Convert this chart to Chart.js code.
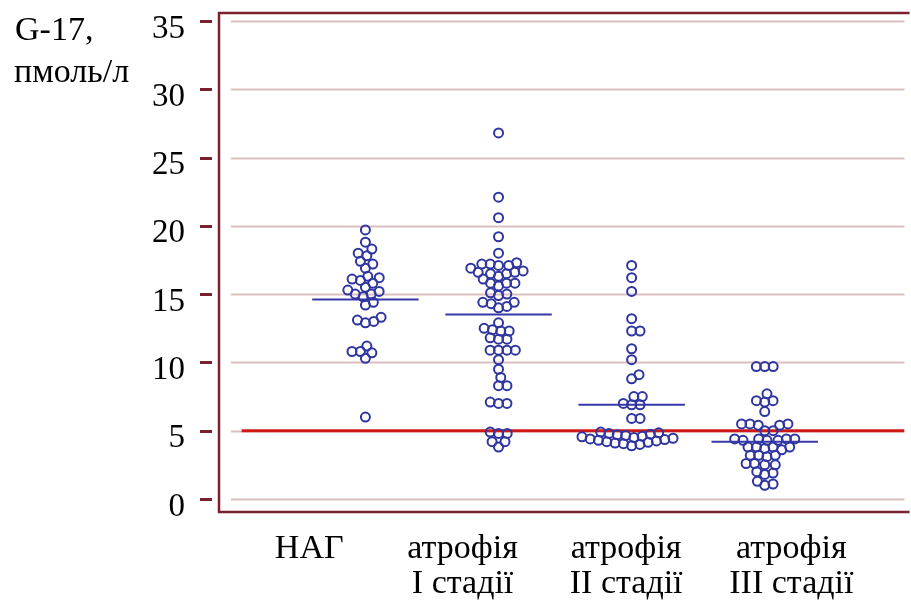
<!DOCTYPE html>
<html>
<head>
<meta charset="utf-8">
<script src="https://cdn.jsdelivr.net/npm/chart.js@4.4.0/dist/chart.umd.min.js"></script>
<style>
  body { margin: 0; background: #fff; }
  #wrap { width: 911px; height: 601px; }
</style>
</head>
<body>
<div id="wrap"><canvas id="myChart"></canvas></div>
<script>
// groups and values
var groupLabels = [["НАГ"], ["атрофія", "I стадії"], ["атрофія", "II стадії"], ["атрофія", "III стадії"]];
var nag = [19.7, 18.8, 18.3, 18.0, 17.8, 17.4, 17.2, 16.9, 16.3, 16.2, 16.1, 16.0, 15.8, 15.5, 15.3,
  15.2, 15.0, 15.0, 14.8, 14.4, 14.2, 13.3, 13.1, 13.0, 12.9, 11.2, 10.8, 10.8, 10.7, 10.3, 6.0];
var atr1 = [26.8, 22.1, 20.6, 19.2, 18.0,
  17.2, 17.1, 17.1, 17.2, 17.3, 16.9,
  16.5, 16.5, 16.6, 16.6, 16.7, 16.3,
  15.8, 15.8, 15.8, 15.6, 16.1,
  15.1, 15.0, 14.9, 14.4, 14.3, 14.4, 14.0, 14.1,
  12.9, 12.3, 12.3, 12.4, 12.5, 11.7, 11.7, 11.8,
  10.9, 10.9, 10.9, 10.9, 10.2, 9.5, 8.9, 8.3, 8.3,
  7.0, 7.0, 7.1, 4.8, 4.8, 4.9, 4.2, 4.2, 3.8];
var atr2 = [17.1, 16.2, 15.2, 13.2, 12.3, 12.3, 11.0, 10.2, 9.1, 8.8, 7.5, 7.5, 6.9, 7.0, 6.9, 5.9, 5.9,
  4.9, 4.85, 4.8, 4.75, 4.7, 4.65, 4.6, 4.55, 4.5, 4.45, 4.4, 4.35, 4.3,
  4.25, 4.2, 4.15, 4.1, 4.05, 4.0, 3.9];
var atr3 = [9.7, 9.7, 9.7, 7.7, 7.2, 7.2, 7.1, 6.4, 5.5, 5.5, 5.5, 5.4, 5.4, 5.0, 5.0,
  4.4, 4.4, 4.4, 4.4, 4.3, 4.3, 4.3, 3.8, 3.8, 3.8, 3.8, 3.7, 3.6,
  3.2, 3.1, 3.2, 3.2, 2.6, 2.6, 2.5, 2.5, 1.8, 1.9, 2.0, 1.0, 1.1, 1.3];
var medians = [14.6, 13.5, 6.9, 4.2];
var normLevel = 5;
var yTicks = [0, 5, 10, 15, 20, 25, 30, 35];

var allGroups = [nag, atr1, atr2, atr3];

// simple beeswarm: spread points sideways so circles do not overlap too much
var X_MIN = -0.1, X_MAX = 5.05, Y_MIN = -0.95, Y_MAX = 35.58;
var pxX = 692 / (X_MAX - X_MIN);
var pxY = 499 / (Y_MAX - Y_MIN);
function swarm(values, d) {
  var order = values.map(function (v, i) { return i; }).sort(function (a, b) { return values[a] - values[b]; });
  var placed = [];
  var off = [];
  order.forEach(function (i) {
    var y = values[i] * pxY;
    var cands = [0];
    placed.forEach(function (p) {
      var dy = Math.abs(p.y - y);
      if (dy < d) {
        var dx = Math.sqrt(d * d - dy * dy);
        cands.push(p.x + dx, p.x - dx);
      }
    });
    cands.sort(function (a, b) { return Math.abs(a) - Math.abs(b); });
    var x = cands.find(function (c) {
      return placed.every(function (p) {
        var dx = p.x - c, dy = p.y - y;
        return dx * dx + dy * dy >= d * d - 0.01;
      });
    });
    placed.push({ x: x, y: y });
    off[i] = x / pxX;
  });
  return off;
}

var pointSets = allGroups.map(function (vals, g) {
  var off = swarm(vals, 8.5);
  return {
    type: "scatter",
    data: vals.map(function (v, i) { return { x: g + 1 + off[i], y: v }; }),
    pointRadius: 4.5,
    pointBorderWidth: 2,
    borderColor: "#3036a0",
    backgroundColor: "rgba(255,255,255,0)",
    order: 1
  };
});

var medianData = [];
medians.forEach(function (m, g) {
  medianData.push({ x: g + 1 - 0.4, y: m }, { x: g + 1 + 0.4, y: m }, { x: g + 1.5, y: null });
});

var serif = "'Liberation Serif', 'DejaVu Serif', serif";

// frame, grid lines and tick marks drawn like the original
var framePlugin = {
  id: "frame",
  beforeDatasetsDraw: function (chart) {
    var ctx = chart.ctx, a = chart.chartArea, y = chart.scales.y;
    ctx.save();
    ctx.lineWidth = 2;
    ctx.strokeStyle = "#dcc0c0";
    yTicks.forEach(function (t) {
      var py = Math.round(y.getPixelForValue(t)) + 0.5;
      ctx.beginPath(); ctx.moveTo(a.left + 12, py); ctx.lineTo(a.right, py); ctx.stroke();
    });
    ctx.strokeStyle = "#7a2030";
    ctx.lineWidth = 3;
    yTicks.forEach(function (t) {
      var py = Math.round(y.getPixelForValue(t)) + 0.5;
      ctx.beginPath(); ctx.moveTo(a.left - 19, py); ctx.lineTo(a.left - 7, py); ctx.stroke();
    });
    ctx.lineWidth = 2.5;
    ctx.beginPath();
    ctx.moveTo(a.right + 5, a.top);
    ctx.lineTo(a.left, a.top);
    ctx.lineTo(a.left, a.bottom);
    ctx.lineTo(a.right + 5, a.bottom);
    ctx.stroke();
    ctx.restore();
  }
};

var titlePlugin = {
  id: "ytitle",
  afterDraw: function (chart) {
    var ctx = chart.ctx;
    ctx.save();
    ctx.fillStyle = "#000";
    ctx.font = "34px " + serif;
    ctx.textBaseline = "alphabetic";
    ctx.fillText("G-17,", 15, 40);
    ctx.fillText("пмоль/л", 14, 82);
    ctx.restore();
  }
};

var labelAt = [0.578, 1.730, 2.959, 4.200];

new Chart("myChart", {
  data: {
    datasets: pointSets.concat([
      {
        type: "line",
        data: medianData,
        borderColor: "#3838a8",
        borderWidth: 2,
        pointRadius: 0,
        spanGaps: false,
        order: 2
      },
      {
        type: "line",
        data: [{ x: 0.07, y: normLevel }, { x: X_MAX, y: normLevel }],
        borderColor: "#d01818",
        borderWidth: 3,
        pointRadius: 0,
        order: 3
      }
    ])
  },
  options: {
    responsive: true,
    maintainAspectRatio: false,
    animation: false,
    layout: { padding: { top: 13, left: 0, right: 0, bottom: 0 } },
    plugins: {
      legend: { display: false },
      tooltip: { enabled: false }
    },
    scales: {
      x: {
        type: "linear",
        min: X_MIN,
        max: X_MAX,
        grid: { display: false, drawTicks: false },
        border: { display: false },
        afterBuildTicks: function (scale) {
          scale.ticks = labelAt.map(function (v) { return { value: v }; });
        },
        afterFit: function (scale) { scale.height = 89; },
        ticks: {
          autoSkip: false,
          maxRotation: 0,
          padding: 20,
          color: "#000",
          font: { family: serif, size: 34, lineHeight: 1.03 },
          callback: function (v, i) { return groupLabels[i]; }
        }
      },
      y: {
        type: "linear",
        min: Y_MIN,
        max: Y_MAX,
        grid: { display: false, drawTicks: true, tickLength: 34 },
        border: { display: false },
        afterBuildTicks: function (scale) {
          scale.ticks = yTicks.map(function (v) { return { value: v }; });
        },
        afterFit: function (scale) { scale.width = 219; },
        ticks: {
          padding: 0,
          labelOffset: 8,
          color: "#000",
          font: { family: serif, size: 33, lineHeight: 0.7 }
        }
      }
    }
  },
  plugins: [framePlugin, titlePlugin]
});
</script>
</body>
</html>
